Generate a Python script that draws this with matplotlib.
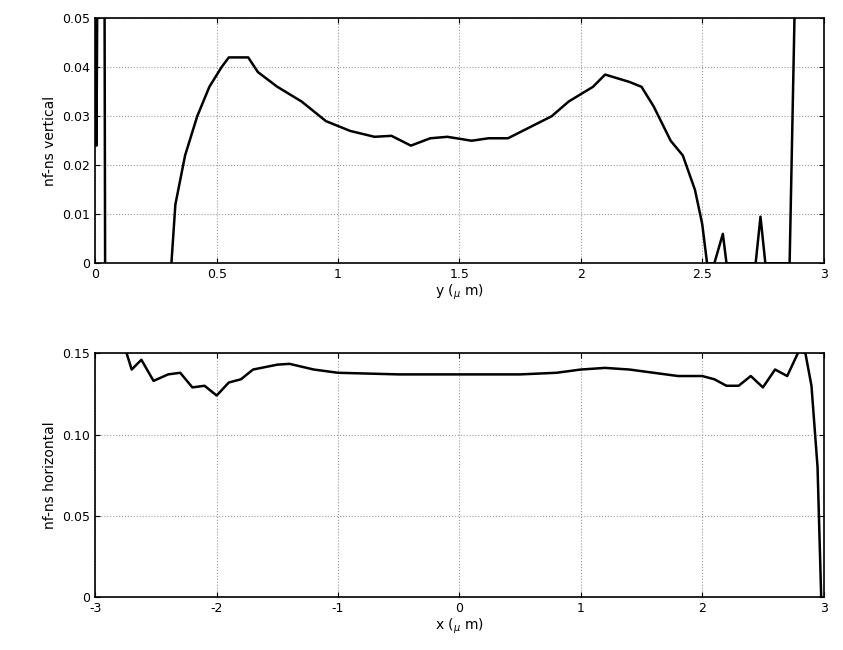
import matplotlib
matplotlib.use("Agg")
import matplotlib.pyplot as plt
plt.rcParams['axes.unicode_minus'] = False

top_x = [0.005, 0.005, 0.009, 0.038, 0.041, 0.30, 0.33, 0.37, 0.42, 0.47, 0.52, 0.55, 0.63, 0.67, 0.75, 0.85, 0.95, 1.05, 1.15, 1.22, 1.30, 1.38, 1.45, 1.55, 1.62, 1.70, 1.80, 1.88, 1.95, 2.05, 2.10, 2.20, 2.25, 2.30, 2.37, 2.42, 2.47, 2.50, 2.52, 2.55, 2.585, 2.60, 2.72, 2.74, 2.76, 2.86, 2.88, 2.90]
top_y = [0.06, 0.024, 0.06, 0.06, -0.01, -0.01, 0.012, 0.022, 0.030, 0.036, 0.040, 0.042, 0.042, 0.039, 0.036, 0.033, 0.029, 0.027, 0.0258, 0.026, 0.024, 0.0255, 0.0258, 0.025, 0.0255, 0.0255, 0.028, 0.030, 0.033, 0.036, 0.0385, 0.037, 0.036, 0.032, 0.025, 0.022, 0.015, 0.008, 0.0, 0.0, 0.006, 0.0, 0.0, 0.0095, 0.0, 0.0, 0.05, 0.07]

bot_x = [-2.75, -2.7, -2.62, -2.52, -2.4, -2.3, -2.2, -2.1, -2.0, -1.9, -1.8, -1.7, -1.5, -1.4, -1.2, -1.0, -0.5, 0.0, 0.5, 0.8, 1.0, 1.2, 1.4, 1.6, 1.8, 2.0, 2.1, 2.2, 2.3, 2.4, 2.5, 2.6, 2.7, 2.8, 2.85, 2.9, 2.95, 2.98]
bot_y = [0.152, 0.140, 0.146, 0.133, 0.137, 0.138, 0.129, 0.130, 0.124, 0.132, 0.134, 0.140, 0.143, 0.1435, 0.140, 0.138, 0.137, 0.137, 0.137, 0.138, 0.140, 0.141, 0.140, 0.138, 0.136, 0.136, 0.134, 0.130, 0.130, 0.136, 0.129, 0.140, 0.136, 0.152, 0.150, 0.130, 0.080, 0.0]

fig = plt.figure(figsize=(8.43, 6.5), dpi=100)
ax1 = fig.add_axes([0.113, 0.595, 0.864, 0.377])
ax2 = fig.add_axes([0.113, 0.0815, 0.864, 0.375])

for ax in (ax1, ax2):
    ax.grid(True, linestyle=':', color='#999999', linewidth=0.8)
    ax.tick_params(direction='in', labelsize=9, top=True, right=True)
    for s in ax.spines.values():
        s.set_linewidth(1.2)

ax1.plot(top_x, top_y, color='black', linewidth=1.8)
ax1.set_xlim(0, 3); ax1.set_ylim(0, 0.05)
ax1.set_xticks([0, 0.5, 1, 1.5, 2, 2.5, 3])
ax1.set_xticklabels(['0', '0.5', '1', '1.5', '2', '2.5', '3'])
ax1.set_yticks([0, 0.01, 0.02, 0.03, 0.04, 0.05])
ax1.set_yticklabels(['0', '0.01', '0.02', '0.03', '0.04', '0.05'])
ax1.set_xlabel('y ($_\\mu$ m)', fontsize=10, labelpad=1)
ax1.set_ylabel('nf-ns vertical', fontsize=10)

ax2.plot(bot_x, bot_y, color='black', linewidth=1.8)
ax2.set_xlim(-3, 3); ax2.set_ylim(0, 0.15)
ax2.set_xticks([-3, -2, -1, 0, 1, 2, 3])
ax2.set_yticks([0, 0.05, 0.10, 0.15])
ax2.set_yticklabels(['0', '0.05', '0.10', '0.15'])
ax2.set_xlabel('x ($_\\mu$ m)', fontsize=10, labelpad=1)
ax2.set_ylabel('nf-ns horizontal', fontsize=10)

fig.savefig('out.png', dpi=100)
